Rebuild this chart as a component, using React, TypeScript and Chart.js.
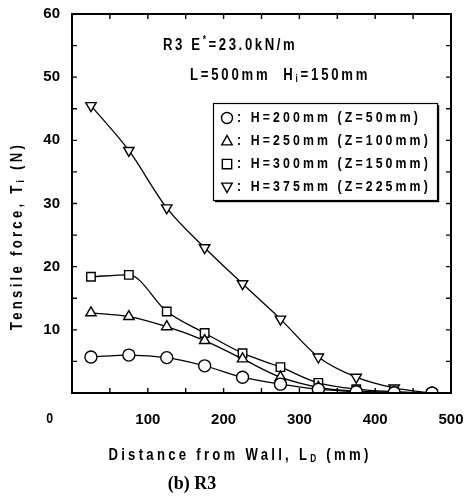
import React, { useEffect, useRef } from 'react';
import { Chart, registerables } from 'chart.js';

Chart.register(...registerables);

// ---- data ----
const distances = [25, 75, 125, 175, 225, 275, 325, 375, 425, 475];
const forceH200 = [5.7, 6.0, 5.6, 4.3, 2.5, 1.4, 0.6, 0.2, 0.05, 0];
const forceH250 = [12.7, 12.1, 10.5, 8.3, 5.4, 2.5, 0.9, 0.3, 0.1, 0];
const forceH300 = [18.4, 18.7, 12.9, 9.5, 6.3, 4.1, 1.6, 0.6, 0.2, 0];
const forceH375 = [45.5, 38.4, 29.3, 23.0, 17.3, 11.7, 5.7, 2.5, 0.8, 0];
const seriesLabels = [
  ': H=200mm (Z=50mm)',
  ': H=250mm (Z=100mm)',
  ': H=300mm (Z=150mm)',
  ': H=375mm (Z=225mm)',
];
const seriesMarkers = ['circle', 'triangle', 'rect', 'triangleDown'];
const xMin = 0;
const xMax = 500;
const xStep = 100;
const xMinorStep = 50;
const yMin = 0;
const yMax = 60;
const yStep = 10;
const yMinorStep = 5;

const SANS = '"Liberation Sans", Arial, sans-serif';
const SERIF = '"Liberation Serif", "Times New Roman", serif';

type Part = { t: string; font: string; dy?: number };

function drawRich(
  ctx: CanvasRenderingContext2D,
  parts: Part[],
  x: number,
  y: number,
  align: 'left' | 'center' | 'right',
  spacing: number,
  sx = 1,
) {
  ctx.save();
  (ctx as any).letterSpacing = spacing + 'px';
  ctx.textBaseline = 'middle';
  ctx.textAlign = 'left';
  ctx.fillStyle = '#000';
  let total = 0;
  for (const p of parts) {
    ctx.font = p.font;
    total += ctx.measureText(p.t).width;
  }
  total *= sx;
  const startX = align === 'center' ? x - total / 2 : align === 'right' ? x - total : x;
  ctx.translate(startX, y);
  ctx.scale(sx, 1);
  let cx = 0;
  for (const p of parts) {
    ctx.font = p.font;
    ctx.fillText(p.t, cx, p.dy || 0);
    cx += ctx.measureText(p.t).width;
  }
  ctx.restore();
}

function drawMarker(ctx: CanvasRenderingContext2D, kind: string, x: number, y: number, r: number) {
  ctx.save();
  ctx.beginPath();
  if (kind === 'circle') {
    ctx.arc(x, y, r, 0, Math.PI * 2);
  } else if (kind === 'rect') {
    ctx.rect(x - r * 0.85, y - r * 0.85, r * 1.7, r * 1.7);
  } else if (kind === 'triangle') {
    ctx.moveTo(x, y - r);
    ctx.lineTo(x + r * 0.95, y + r * 0.7);
    ctx.lineTo(x - r * 0.95, y + r * 0.7);
    ctx.closePath();
  } else {
    ctx.moveTo(x, y + r);
    ctx.lineTo(x + r * 0.95, y - r * 0.7);
    ctx.lineTo(x - r * 0.95, y - r * 0.7);
    ctx.closePath();
  }
  ctx.fillStyle = '#fff';
  ctx.fill();
  ctx.lineWidth = 1.4;
  ctx.strokeStyle = '#000';
  ctx.stroke();
  ctx.restore();
}

const decorPlugin = {
  id: 'decor',
  afterDraw(chart: any) {
    const ctx: CanvasRenderingContext2D = chart.ctx;
    const { left, right, top, bottom } = chart.chartArea;
    const xs = chart.scales.x;
    const ys = chart.scales.y;
    ctx.save();
    // frame
    ctx.strokeStyle = '#000';
    ctx.lineWidth = 2;
    ctx.strokeRect(left, top, right - left, bottom - top);
    // inward ticks
    ctx.lineWidth = 1.4;
    ctx.beginPath();
    for (let v = yMin + yMinorStep; v < yMax; v += yMinorStep) {
      const py = ys.getPixelForValue(v);
      ctx.moveTo(left, py);
      ctx.lineTo(left + 5, py);
      ctx.moveTo(right, py);
      ctx.lineTo(right - 5, py);
    }
    for (let v = xMin + xMinorStep; v < xMax; v += xMinorStep) {
      const px = xs.getPixelForValue(v);
      ctx.moveTo(px, top);
      ctx.lineTo(px, top + 5);
      ctx.moveTo(px, bottom);
      ctx.lineTo(px, bottom - 5);
    }
    ctx.stroke();
    ctx.restore();

    const BF = (s: number) => `bold ${s}px ${SANS}`;
    const SX = 0.82;

    // corner "0"
    drawRich(ctx, [{ t: String(xMin), font: BF(15) }], xs.getPixelForValue(xMin) - 22, 419, 'center', 1, SX);

    // annotations
    drawRich(ctx, [
      { t: 'R3 E', font: BF(16) },
      { t: '*', font: BF(10), dy: -6 },
      { t: '=23.0kN/m', font: BF(16) },
    ], 163, 46, 'left', 3.2, SX);
    drawRich(ctx, [
      { t: 'L=500mm  H', font: BF(16) },
      { t: 'i', font: BF(10), dy: 3 },
      { t: '=150mm', font: BF(16) },
    ], 190, 76, 'left', 3.4, SX);

    // legend box
    ctx.save();
    ctx.strokeStyle = '#000';
    ctx.lineWidth = 1.2;
    ctx.strokeRect(213.5, 103.5, 224, 97);
    ctx.fillStyle = '#000';
    ctx.fillRect(437, 105, 2.2, 97);
    ctx.fillRect(215, 200, 224, 2.2);
    ctx.restore();
    const rowY = [118, 141, 164, 187];
    for (let i = 0; i < seriesLabels.length; i++) {
      drawMarker(ctx, seriesMarkers[i], 227, rowY[i], 5.5);
      drawRich(ctx, [{ t: seriesLabels[i], font: BF(15) }], 237, rowY[i], 'left', 3.8, SX);
    }

    // axis titles
    ctx.save();
    ctx.translate(18, 236);
    ctx.rotate(-Math.PI / 2);
    drawRich(ctx, [
      { t: 'Tensile force, T', font: BF(16) },
      { t: 'i', font: BF(10), dy: 3 },
      { t: ' (N)', font: BF(16) },
    ], 0, 0, 'center', 4, SX);
    ctx.restore();
    drawRich(ctx, [
      { t: 'Distance from Wall, L', font: BF(16) },
      { t: 'D', font: BF(10), dy: 3 },
      { t: ' (mm)', font: BF(16) },
    ], 240, 456, 'center', 4, SX);
    drawRich(ctx, [{ t: '(b) R3', font: `bold 18px ${SERIF}` }], 192, 484, 'center', 0);
  },
};

function makeDataset(values: number[], marker: string) {
  const down = marker === 'triangleDown';
  return {
    data: distances.map((d, i) => ({ x: d, y: values[i] })),
    borderColor: '#000',
    borderWidth: 1.3,
    backgroundColor: '#fff',
    pointStyle: down ? 'triangle' : marker,
    rotation: down ? 180 : 0,
    pointRadius: 6,
    pointBorderWidth: 1.4,
    pointBorderColor: '#000',
    pointBackgroundColor: '#fff',
    cubicInterpolationMode: 'monotone' as const,
    fill: false,
  };
}

export default function App() {
  const ref = useRef<HTMLCanvasElement | null>(null);
  useEffect(() => {
    if (!ref.current) return;
    const chart = new Chart(ref.current, {
      type: 'line',
      data: {
        datasets: [
          makeDataset(forceH200, 'circle'),
          makeDataset(forceH250, 'triangle'),
          makeDataset(forceH300, 'rect'),
          makeDataset(forceH375, 'triangleDown'),
        ],
      },
      options: {
        responsive: false,
        animation: false,
        events: [],
        layout: { padding: { top: 14, right: 15, left: 0, bottom: 0 } },
        plugins: { legend: { display: false }, tooltip: { enabled: false } },
        scales: {
          x: {
            type: 'linear',
            min: xMin,
            max: xMax,
            grid: { display: false, drawTicks: false },
            border: { display: false },
            ticks: {
              stepSize: xStep,
              padding: 18,
              color: '#000',
              font: { family: SANS, size: 15, weight: 'bold' },
              maxRotation: 0,
              callback: (v: any) => (v === xMin ? '' : String(v)),
            },
            afterFit: (s: any) => {
              s.height = 105;
              s.paddingLeft = 0;
              s.paddingRight = 0;
            },
          },
          y: {
            type: 'linear',
            min: yMin,
            max: yMax,
            grid: { display: false, drawTicks: false },
            border: { display: false },
            ticks: {
              stepSize: yStep,
              padding: 12,
              color: '#000',
              font: { family: SANS, size: 15, weight: 'bold' },
              callback: (v: any) => (v === yMin ? '' : String(v)),
            },
            afterFit: (s: any) => {
              s.width = 72;
              s.paddingTop = 0;
              s.paddingBottom = 0;
            },
          },
        },
      } as any,
      plugins: [decorPlugin],
    });
    return () => chart.destroy();
  }, []);
  return (
    <div style={{ position: 'absolute', left: 0, top: 0, width: 466, height: 498, background: '#fff' }}>
      <canvas ref={ref} width={466} height={498} style={{ display: 'block' }} />
    </div>
  );
}
